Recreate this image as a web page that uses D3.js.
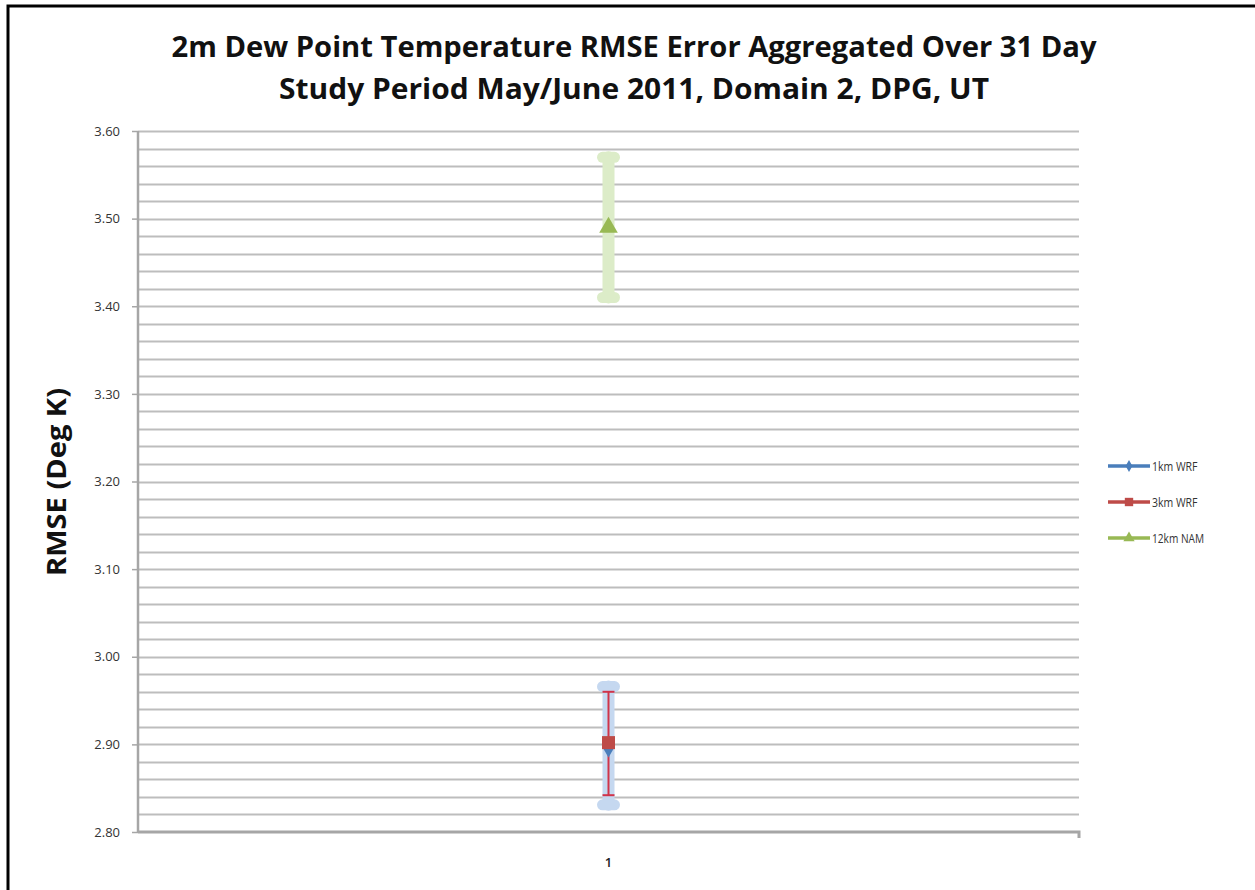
<!DOCTYPE html>
<html><head><meta charset="utf-8">
<script src="https://cdn.jsdelivr.net/npm/d3@7"></script>
<style>body{margin:0;background:#fff}</style>
</head><body>
<svg id="c" width="1255" height="890"></svg>
<script>
const categories = ["1"];
const seriesNames = ["1km WRF", "3km WRF", "12km NAM"];
const seriesValues = [2.895, 2.902, 3.49];
const errorLow = [2.831, 2.842, 3.41];
const errorHigh = [2.966, 2.960, 3.57];
const yTicks = [2.80, 2.90, 3.00, 3.10, 3.20, 3.30, 3.40, 3.50, 3.60];
const titleLines = ["2m Dew Point Temperature RMSE Error Aggregated Over 31 Day", "Study Period May/June 2011, Domain 2, DPG, UT"];
const yTitle = "RMSE (Deg K)";

const colors = ["#4a7ebb", "#be4b48", "#98b954"];
const barColors = ["#c5d8f0", "#c0504d", "#dcecc8"];

const svg = d3.select("#c");
// frame
svg.append("path").attr("d", "M8,1000 L8,6 L1300,6").attr("fill", "none").attr("stroke", "#000").attr("stroke-width", 3);

const L = 138, R = 1079, T = 131, B = 832;
const y = d3.scaleLinear().domain([2.8, 3.6]).range([B, T]);
const x = d3.scaleBand().domain(categories).range([L, R]);

// gridlines (minor every 0.02)
const grid = d3.range(0, 41).map(i => 2.8 + i * 0.02).filter(v => v > 2.801);
svg.append("g").selectAll("line").data(grid).join("line")
  .attr("x1", L).attr("x2", R)
  .attr("y1", d => Math.round(y(d)) + 0.5).attr("y2", d => Math.round(y(d)) + 0.5)
  .attr("stroke", "#bdbdbd").attr("stroke-width", 1.8);

// y axis
const ya = d3.axisLeft(y).tickValues(yTicks).tickFormat(d3.format(".2f")).tickSize(6).tickPadding(12);
const gy = svg.append("g").attr("transform", `translate(${L},0)`).call(ya);
gy.select(".domain").attr("stroke", "#a6a6a6").attr("stroke-width", 2.5).attr("d", `M0,${B}V${T}`);
gy.selectAll(".tick line").attr("stroke", "#a6a6a6").attr("stroke-width", 1.5);
gy.selectAll(".tick text").attr("font-family", "Open Sans, sans-serif").attr("font-size", 13).attr("fill", "#333");

// x axis
const xa = d3.axisBottom(x).tickSize(0).tickPadding(26);
const gx = svg.append("g").attr("transform", `translate(0,${B})`).call(xa);
gx.select(".domain").attr("stroke", "#a6a6a6").attr("stroke-width", 3).attr("d", `M${L},0H${R}V6`);
gx.selectAll(".tick text").attr("font-family", "Open Sans, sans-serif").attr("font-size", 13).attr("font-weight", "600").attr("fill", "#222");

const cx = x("1") + x.bandwidth() / 2;

// error bars: wide light bars for 1km and 12km
[0, 2].forEach(i => {
  svg.append("line").attr("x1", cx).attr("x2", cx)
    .attr("y1", y(errorHigh[i])).attr("y2", y(errorLow[i]))
    .attr("stroke", barColors[i]).attr("stroke-width", 12).attr("stroke-linecap", "round");
  [errorHigh[i], errorLow[i]].forEach(v => {
    svg.append("line").attr("x1", cx - 6).attr("x2", cx + 6).attr("y1", y(v)).attr("y2", y(v))
      .attr("stroke", barColors[i]).attr("stroke-width", 11).attr("stroke-linecap", "round");
  });
});
// 3km thin red error bar
svg.append("line").attr("x1", cx).attr("x2", cx).attr("y1", y(errorHigh[1])).attr("y2", y(errorLow[1]))
  .attr("stroke", "#d0344a").attr("stroke-width", 2);
[errorHigh[1], errorLow[1]].forEach(v => {
  svg.append("line").attr("x1", cx - 6).attr("x2", cx + 6).attr("y1", y(v)).attr("y2", y(v))
    .attr("stroke", "#d0344a").attr("stroke-width", 2);
});

// markers
const sym = [d3.symbolDiamond, d3.symbolSquare, d3.symbolTriangle];
const sizes = [90, 170, 150];
seriesValues.forEach((v, i) => {
  svg.append("path").attr("d", d3.symbol().type(sym[i]).size(sizes[i])())
    .attr("transform", `translate(${cx},${y(v)})`).attr("fill", colors[i]);
});

// title
titleLines.forEach((t, i) => {
  svg.append("text").attr("x", 634).attr("y", 57 + i * 42).attr("text-anchor", "middle")
    .attr("font-family", "Open Sans, sans-serif").attr("font-weight", "bold").attr("font-size", 28)
    .attr("textLength", i === 0 ? 925 : 710).attr("lengthAdjust", "spacingAndGlyphs")
    .attr("fill", "#111").text(t);
});

// y title
svg.append("text").attr("transform", "translate(66,482) rotate(-90)").attr("text-anchor", "middle")
  .attr("font-family", "Open Sans, sans-serif").attr("font-weight", "bold").attr("font-size", 26)
  .attr("textLength", 188).attr("lengthAdjust", "spacingAndGlyphs")
  .attr("fill", "#111").text(yTitle);

// legend
const lg = svg.append("g");
seriesNames.forEach((n, i) => {
  const ly = 466 + i * 36;
  lg.append("line").attr("x1", 1108).attr("x2", 1150).attr("y1", ly).attr("y2", ly)
    .attr("stroke", colors[i]).attr("stroke-width", 3.5);
  lg.append("path").attr("d", d3.symbol().type(sym[i]).size([40, 70, 55][i])())
    .attr("transform", `translate(1129,${ly})`).attr("fill", colors[i]);
  lg.append("text").attr("x", 1152).attr("y", ly + 5)
    .attr("font-family", "Open Sans, sans-serif").attr("font-size", 13).attr("fill", "#333")
    .attr("textLength", n.length * 6.5).attr("lengthAdjust", "spacingAndGlyphs").text(n);
});
</script>
</body></html>
